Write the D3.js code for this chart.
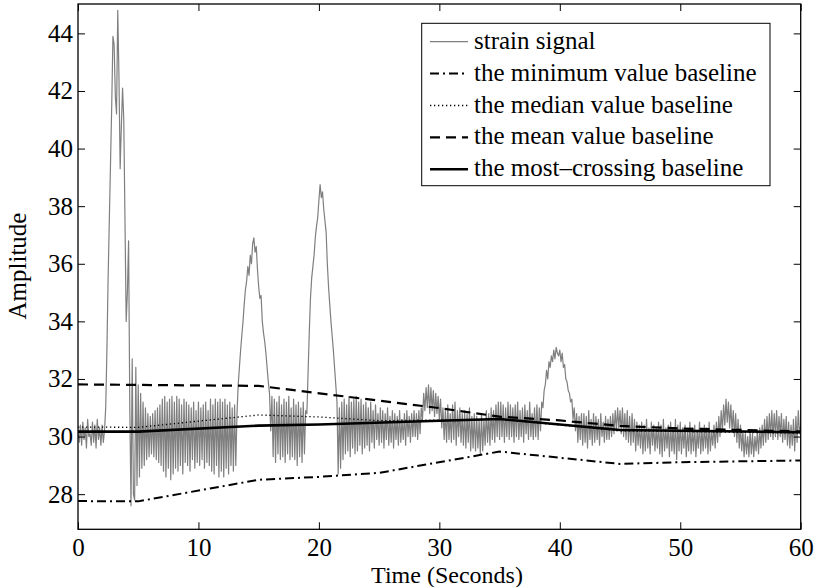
<!DOCTYPE html>
<html><head><meta charset="utf-8">
<script src="https://cdn.jsdelivr.net/npm/d3@7"></script>
<style>body{margin:0;background:#fff}svg{display:block}
svg text{font-family:'Liberation Serif','Times New Roman',Tinos,'Nimbus Roman','DejaVu Serif',serif !important;fill:#000}</style>
</head><body><svg id="c" width="815" height="587"></svg>
<script>
// sample interval of the strain signal (s)
const dt = 0.1;
// strain signal, one row per second (10 samples each)
const strain = [
30.2,29.8,30.4,29.7,30.5,29.9,30.3,29.6,30.6,30.0,
30.1,29.7,30.5,29.8,30.4,29.6,30.6,29.9,30.3,29.7,
30.4,29.8,30.2,31.0,33.0,35.5,37.5,39.5,41.5,43.9,
43.6,41.8,41.2,44.8,42.5,39.3,40.8,42.1,41.0,37.5,
34.0,35.0,36.8,31.0,27.6,32.7,28.0,27.8,32.4,28.3,
31.8,28.6,31.5,28.9,31.2,29.0,31.0,29.2,30.8,29.3,
30.7,29.4,30.8,29.3,30.9,29.2,31.0,29.1,31.1,29.0,
31.3,28.8,31.4,28.6,31.2,28.9,31.3,28.5,31.4,28.7,
31.2,28.9,31.4,28.8,31.3,29.0,31.1,28.7,31.3,29.1,
31.2,29.0,31.1,28.8,31.0,29.2,31.2,28.9,30.9,29.1,
31.2,29.0,31.0,29.2,31.1,28.9,31.2,29.1,30.9,29.0,
31.3,28.8,31.1,28.7,31.3,29.0,31.2,28.6,31.3,28.8,
31.2,28.6,31.3,28.9,31.1,28.7,31.2,29.0,31.0,28.8,
31.1,29.0,30.8,31.8,32.4,33.0,33.5,34.0,34.6,35.1,
35.4,35.9,35.6,36.3,36.0,36.7,36.9,36.4,36.6,35.8,
35.2,34.8,34.9,34.0,33.6,33.3,32.9,32.4,31.9,31.5,
30.2,31.4,29.3,31.3,29.1,31.2,29.4,31.4,29.2,31.1,
29.3,31.3,29.1,31.2,29.4,31.4,29.2,31.0,29.3,31.3,
29.2,31.1,29.0,31.2,29.3,31.0,29.1,31.2,29.4,30.9,
30.8,32.2,33.6,34.8,35.5,35.9,36.3,36.9,37.3,37.6,
38.2,38.75,38.3,38.5,37.9,37.5,37.1,36.0,35.2,34.6,
34.0,33.5,33.0,32.4,31.8,31.2,28.7,31.0,28.9,31.2,
29.2,31.3,29.4,31.1,29.5,31.4,29.3,31.2,29.6,31.3,
29.4,31.4,29.5,31.2,29.7,31.3,29.4,31.1,29.6,31.2,
29.7,31.0,29.5,31.2,29.8,30.9,29.6,31.1,29.9,30.8,
29.7,31.0,29.8,30.9,29.6,30.8,29.9,31.0,29.7,30.7,
29.8,30.9,29.6,30.8,29.9,30.7,29.7,30.9,29.8,30.6,
29.9,30.8,29.7,30.9,30.0,30.7,29.8,30.8,30.0,30.9,
30.0,30.8,29.9,30.9,30.1,31.0,30.6,31.5,30.9,31.7,
31.0,31.8,30.8,31.7,30.9,31.6,30.7,31.5,30.8,31.4,
30.6,31.3,30.3,31.0,29.9,30.9,29.8,31.1,29.9,30.8,
29.8,31.1,29.9,31.2,29.7,30.9,30.0,31.0,29.8,30.8,
29.7,30.9,29.6,30.8,29.8,31.0,29.5,30.7,29.6,30.8,
29.5,30.7,29.6,30.6,29.4,30.8,29.5,30.6,29.7,30.9,
29.8,30.8,29.7,31.0,29.9,30.9,29.8,31.1,30.0,31.2,
29.9,31.2,30.0,31.1,29.8,31.0,30.0,31.2,29.9,31.1,
30.0,31.0,29.8,31.1,30.0,31.2,29.9,30.9,30.0,31.0,
29.8,31.1,30.1,30.9,29.9,31.2,30.0,30.8,29.9,31.0,
30.0,31.1,29.9,31.0,30.2,31.2,31.0,31.6,31.8,32.3,
32.0,32.6,32.4,32.8,32.6,33.0,32.7,33.1,32.9,32.8,
33.0,32.6,32.9,32.4,32.5,32.0,31.9,31.6,31.5,31.2,
31.3,30.6,31.0,30.2,30.8,29.8,30.7,29.9,30.8,29.7,
30.8,29.8,30.7,29.6,30.9,29.9,30.6,29.7,30.8,29.8,
30.7,29.9,30.6,29.7,30.8,30.0,30.5,29.8,30.7,29.9,
30.6,29.9,30.7,30.0,30.8,30.1,30.9,30.2,31.0,30.3,
30.9,30.1,31.0,30.0,30.8,29.9,30.9,29.8,30.7,29.7,
30.8,29.8,30.6,29.5,30.5,29.7,30.4,29.6,30.5,29.4,
30.4,29.5,30.6,29.6,30.3,29.4,30.5,29.7,30.4,29.5,
30.3,29.6,30.5,29.4,30.4,29.3,30.6,29.5,30.3,29.6,
30.4,29.3,30.5,29.5,30.3,29.4,30.6,29.2,30.4,29.5,
30.5,29.4,30.3,29.6,30.4,29.3,30.2,29.5,30.5,29.4,
30.3,29.5,30.4,29.3,30.2,29.6,30.5,29.4,30.3,29.5,
30.4,29.6,30.3,29.4,30.5,29.5,30.2,29.7,30.4,29.6,
30.5,29.8,30.7,30.0,30.9,30.2,31.1,30.4,31.3,30.5,
31.2,30.3,31.1,30.2,30.9,30.0,30.8,29.8,30.6,29.6,
30.4,29.5,30.2,29.3,30.1,29.4,30.0,29.3,30.2,29.4,
30.1,29.3,30.0,29.5,30.2,29.4,30.3,29.6,30.4,29.7,
30.6,29.8,30.7,29.9,30.8,30.0,30.9,29.9,30.8,30.0,
30.9,29.9,30.7,30.0,30.8,29.8,30.6,29.9,30.7,29.7,
30.5,29.6,30.4,29.7,30.6,29.5,30.7,29.8,30.9,30.1,
30.4
];
// baselines: knot times and values
const minT = [0,5,15,20,25,35,45,50,60];
const minV = [27.76,27.75,28.5,28.6,28.74,29.48,29.05,29.11,29.17];
const medT = [0,5,15,20,25,35,45,60];
const medV = [30.33,30.32,30.75,30.68,30.55,30.6,30.2,30.12];
const meanT = [0,15,30,35,40,45,50,60];
const meanV = [31.81,31.76,30.99,30.69,30.56,30.37,30.28,30.18];
const mostT = [0,5,15,20,30,35,45,50,60];
const mostV = [30.17,30.17,30.38,30.42,30.55,30.61,30.23,30.2,30.15];
const xTicks = [0,10,20,30,40,50,60];
const yTicks = [28,30,32,34,36,38,40,42,44];
const legendLabels = ["strain signal","the minimum value baseline","the median value baseline","the mean value baseline","the most\u2013crossing baseline"];

const svg = d3.select("#c");
const L=78, R=800.7, T=4, B=529.3;
const x = d3.scaleLinear().domain([0,60]).range([L,R]);
const y = d3.scaleLinear().domain([26.78,45.02]).range([B,T]);

svg.append("defs").append("clipPath").attr("id","clip").append("rect")
  .attr("x",L).attr("y",T).attr("width",R-L).attr("height",B-T);

const g = svg.append("g").attr("clip-path","url(#clip)");
const line = d3.line().x(d=>x(d[0])).y(d=>y(d[1]));

const styles = [
  {stroke:"#7f7f7f", w:1.2, dash:null},
  {stroke:"#000", w:2, dash:"9,4,2,4"},
  {stroke:"#000", w:1.3, dash:"1.3,2.7"},
  {stroke:"#000", w:2.2, dash:"10,6"},
  {stroke:"#000", w:2.6, dash:null}
];

const sig = strain.map((v,i)=>[i*dt, v]);
const series = [sig,
  minT.map((t,i)=>[t,minV[i]]),
  medT.map((t,i)=>[t,medV[i]]),
  meanT.map((t,i)=>[t,meanV[i]]),
  mostT.map((t,i)=>[t,mostV[i]])];

series.forEach((d,i)=>{
  const p = g.append("path").datum(d).attr("d",line).attr("fill","none")
    .attr("stroke",styles[i].stroke).attr("stroke-width",styles[i].w)
    .attr("stroke-linejoin","round");
  if(styles[i].dash) p.attr("stroke-dasharray",styles[i].dash);
});

// axes (ticks inward, box)
const fs = 25;
const axB = svg.append("g").attr("transform",`translate(0,${B})`)
  .call(d3.axisBottom(x).tickValues(xTicks).tickSize(-7).tickPadding(9).tickFormat(d3.format("d")));
const axT = svg.append("g").attr("transform",`translate(0,${T})`)
  .call(d3.axisTop(x).tickValues(xTicks).tickSize(-7).tickFormat(""));
const axL = svg.append("g").attr("transform",`translate(${L},0)`)
  .call(d3.axisLeft(y).tickValues(yTicks).tickSize(-7).tickPadding(5).tickFormat(d3.format("d")));
const axR = svg.append("g").attr("transform",`translate(${R},0)`)
  .call(d3.axisRight(y).tickValues(yTicks).tickSize(-7).tickFormat(""));
[axB,axT,axL,axR].forEach(a=>{
  a.attr("font-family",null);
  a.select(".domain").remove();
  a.selectAll("line").attr("stroke","#000").attr("stroke-width",1);
  a.selectAll("text").attr("font-size",fs);
});
axB.selectAll("text").attr("dy","0.71em").attr("y",9);
svg.append("rect").attr("x",L).attr("y",T).attr("width",R-L).attr("height",B-T)
  .attr("fill","none").attr("stroke","#000").attr("stroke-width",1.3);

svg.append("text").attr("x",447).attr("y",583).attr("text-anchor","middle")
  .attr("font-size",24).text("Time (Seconds)");
svg.append("text").attr("transform","translate(26,266) rotate(-90)").attr("text-anchor","middle")
  .attr("font-size",fs).text("Amplitude");

// legend
const lg = svg.append("g");
lg.append("rect").attr("x",421.7).attr("y",23.3).attr("width",348.3).attr("height",162.4)
  .attr("fill","#fff").attr("stroke","#000").attr("stroke-width",1);
legendLabels.forEach((lab,i)=>{
  const yy = 41.7 + i*31.9;
  const ln = lg.append("line").attr("x1",430).attr("x2",468).attr("y1",yy).attr("y2",yy)
    .attr("stroke",styles[i].stroke).attr("stroke-width",styles[i].w);
  if(styles[i].dash) ln.attr("stroke-dasharray",styles[i].dash);
  lg.append("text").attr("x",474).attr("y",yy+7).attr("font-size",fs).text(lab);
});
</script></body></html>
